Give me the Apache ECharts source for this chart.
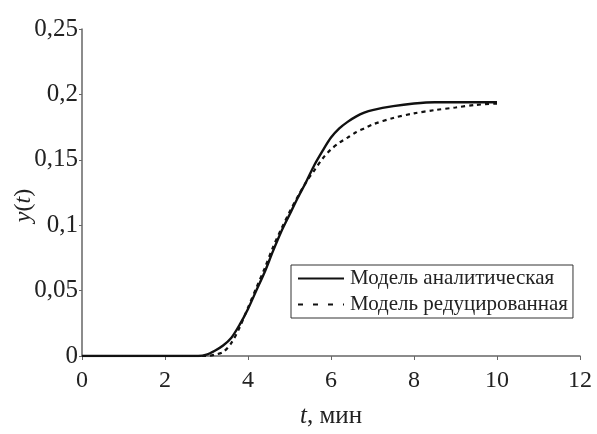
<!DOCTYPE html>
<html>
<head>
<meta charset="utf-8">
<title>y(t)</title>
<script src="https://cdn.jsdelivr.net/npm/echarts@6/dist/echarts.min.js"></script>
<style>
  html, body { margin: 0; padding: 0; background: #fff; }
  #chart { width: 597px; height: 434px; }
</style>
</head>
<body>
<div id="chart"></div>
<script>
// время, мин
var tValues = [0, 1, 2, 2.5, 2.8, 3, 3.2, 3.4, 3.6, 3.8, 4, 4.2, 4.4, 4.6, 4.8, 5, 5.2, 5.4, 5.6, 5.8, 6, 6.2, 6.4, 6.6, 6.8, 7, 7.5, 8, 8.5, 9, 9.5, 10]
// модель аналитическая
var yAnalytic = [0, 0, 0, 0, 0, 0.001, 0.004, 0.008, 0.014, 0.024, 0.036, 0.050, 0.064, 0.080, 0.095, 0.108, 0.121, 0.133, 0.146, 0.157, 0.167, 0.174, 0.179, 0.183, 0.186, 0.188, 0.191, 0.193, 0.194, 0.194, 0.194, 0.194]
// модель редуцированная
var yReduced = [0, 0, 0, 0, 0, 0, 0.001, 0.003, 0.010, 0.022, 0.037, 0.052, 0.067, 0.083, 0.097, 0.110, 0.122, 0.133, 0.142, 0.151, 0.158, 0.163, 0.167, 0.171, 0.174, 0.177, 0.182, 0.1855, 0.188, 0.190, 0.192, 0.193]
var seriesNames = ['Модель аналитическая', 'Модель редуцированная']

var font = "'Liberation Serif', 'Times New Roman', serif"

function pairs(xs, ys) {
  return xs.map(function (x, i) { return [x, ys[i]] })
}

var chart = echarts.init(document.getElementById('chart'))
chart.setOption({
  animation: false,
  backgroundColor: '#fff',
  textStyle: { fontFamily: font },
  grid: { left: 82, right: 17, top: 29, bottom: 78, containLabel: false, outerBoundsMode: 'none' },
  legend: {
    orient: 'vertical',
    left: 291,
    top: 265,
    padding: [3, 5, 3, 6],
    itemGap: 5,
    itemWidth: 46,
    itemHeight: 14,
    backgroundColor: '#fff',
    borderColor: '#333',
    borderWidth: 1,
    itemStyle: { opacity: 0 },
    textStyle: { fontFamily: font, fontSize: 21, color: '#222', padding: [0, 0, 0, 1] },
    data: [
      { name: seriesNames[0] },
      { name: seriesNames[1], lineStyle: { type: [5, 10] } }
    ]
  },
  xAxis: {
    type: 'value',
    min: 0,
    max: 12,
    interval: 2,
    name: '{i|t}, мин',
    nameLocation: 'middle',
    nameGap: 48,
    nameMoveOverlap: false,
    nameTextStyle: {
      fontFamily: font, fontSize: 25, color: '#222',
      rich: { i: { fontFamily: font, fontSize: 25, fontStyle: 'italic', color: '#222' } }
    },
    splitLine: { show: false },
    axisLine: { lineStyle: { color: '#666', width: 1.5 } },
    axisTick: { inside: false, length: 4, lineStyle: { color: '#666' } },
    axisLabel: { margin: 13, fontFamily: font, fontSize: 24, color: '#222' }
  },
  yAxis: {
    type: 'value',
    min: 0,
    max: 0.25,
    interval: 0.05,
    name: '{i|y}({i|t})',
    nameLocation: 'middle',
    nameGap: 46,
    nameMoveOverlap: false,
    nameTextStyle: {
      fontFamily: font, fontSize: 24, color: '#222',
      padding: [0, 26, 0, 0],
      rich: { i: { fontFamily: font, fontSize: 24, fontStyle: 'italic', color: '#222' } }
    },
    splitLine: { show: false },
    axisLine: { show: true, lineStyle: { color: '#666', width: 1.5 } },
    axisTick: { show: true, length: 3, lineStyle: { color: '#666' } },
    axisLabel: {
      margin: 4,
      fontFamily: font,
      fontSize: 25,
      color: '#222',
      formatter: function (v) { return String(+v.toFixed(2)).replace('.', ',') }
    }
  },
  series: [
    {
      name: seriesNames[0],
      type: 'line',
      smooth: 0.3,
      symbol: 'none',
      data: pairs(tValues, yAnalytic),
      lineStyle: { color: '#111', width: 2.4, type: 'solid' },
      itemStyle: { color: '#111' }
    },
    {
      name: seriesNames[1],
      type: 'line',
      smooth: 0.3,
      symbol: 'none',
      data: pairs(tValues, yReduced),
      lineStyle: { color: '#111', width: 2.2, type: [4, 4] },
      itemStyle: { color: '#111' }
    }
  ]
})
</script>
</body>
</html>
